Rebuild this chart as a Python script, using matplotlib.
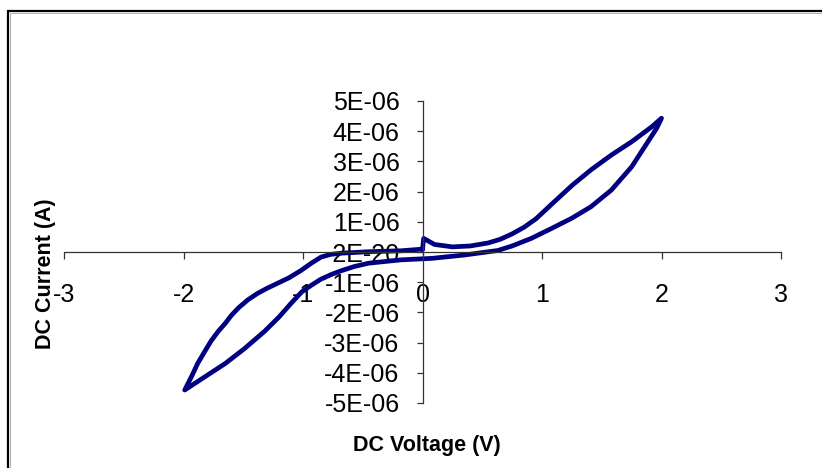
import matplotlib
matplotlib.use("Agg")
import matplotlib.pyplot as plt
from matplotlib.patches import Rectangle

# I-V hysteresis loop (current in microamps)
# starts at 0 V, sweeps up to +2 V, down to -2 V, back to 0 V
volts = [0.00, 0.01, 0.10, 0.25, 0.40, 0.55, 0.65, 0.75, 0.85, 0.95, 1.08,
         1.25, 1.41, 1.58, 1.75, 1.92, 2.00,
         1.96, 1.86, 1.75, 1.58, 1.41, 1.25, 1.08, 0.91, 0.75, 0.63, 0.35,
         0.08, -0.18, -0.45, -0.57, -0.68, -0.76, -0.85, -0.93, -1.01,
         -1.10, -1.20, -1.32, -1.49, -1.65, -1.82, -1.99,
         -1.93, -1.88, -1.82, -1.77, -1.71, -1.65, -1.60, -1.54, -1.46,
         -1.38, -1.30, -1.21, -1.12, -1.02, -0.93, -0.85, -0.77, -0.68,
         -0.45, -0.18, -0.02, 0.00]
current_ua = [0.09, 0.45, 0.25, 0.17, 0.20, 0.30, 0.42, 0.60, 0.82, 1.10, 1.58,
              2.20, 2.72, 3.21, 3.65, 4.15, 4.43,
              4.10, 3.49, 2.82, 2.05, 1.50, 1.12, 0.78, 0.45, 0.20, 0.05, -0.10,
              -0.21, -0.26, -0.37, -0.48, -0.62, -0.74, -0.90, -1.10, -1.32,
              -1.70, -2.15, -2.62, -3.20, -3.69, -4.13, -4.57,
              -4.10, -3.68, -3.28, -2.95, -2.63, -2.36, -2.10, -1.85, -1.58,
              -1.37, -1.20, -1.03, -0.86, -0.62, -0.37, -0.17, -0.08, -0.04,
              0.01, 0.04, 0.09, 0.09]

x_ticks = [-3, -2, -1, 0, 1, 2, 3]
x_tick_labels = ["-3", "-2", "-1", "0", "1", "2", "3"]
y_ticks = [-5e-6, -4e-6, -3e-6, -2e-6, -1e-6, 0, 1e-6, 2e-6, 3e-6, 4e-6, 5e-6]
y_tick_labels = ["-5E-06", "-4E-06", "-3E-06", "-2E-06", "-1E-06", "-2E-20",
                 "1E-06", "2E-06", "3E-06", "4E-06", "5E-06"]

plt.rcParams["font.family"] = ["Liberation Sans", "DejaVu Sans"]
plt.rcParams["axes.unicode_minus"] = False

W, H = 822, 468
fig = plt.figure(figsize=(W / 100, H / 100), dpi=100)
ax = fig.add_axes([64 / W, 65 / H, 717 / W, 302 / H])
ax.patch.set_alpha(0)

amps = [c * 1e-6 for c in current_ua]
ax.plot(volts, amps, color="#000080", lw=3.4, solid_joinstyle="round",
        solid_capstyle="round")

ax.set_xlim(-3, 3)
ax.set_ylim(-5e-6, 5e-6)
ax.spines["left"].set_position(("data", 0))
ax.spines["bottom"].set_position(("data", 0))
ax.spines[["top", "right"]].set_visible(False)
for s in ("left", "bottom"):
    ax.spines[s].set_color("#333333")
    ax.spines[s].set_linewidth(0.9)

ax.set_xticks(x_ticks)
ax.set_xticklabels(x_tick_labels)
ax.set_yticks(y_ticks)
ax.set_yticklabels(y_tick_labels)
ax.tick_params(axis="x", direction="out", length=5, width=0.9, color="#333333",
               pad=17.5, labelsize=18)
ax.tick_params(axis="y", direction="out", length=4.5, width=0.9, color="#333333",
               pad=12, labelsize=18)

fig.text(427 / W, 1 - 445 / H, "DC Voltage (V)", ha="center", va="center",
         fontsize=15.5, fontweight="bold")
fig.text(45 / W, 1 - 274 / H, "DC Current (A)", ha="center", va="center",
         rotation=90, fontsize=15.5, fontweight="bold")

# chart-area border (runs off the right and bottom edges)
fig.patches.append(Rectangle((8 / W, -0.1), 1.2, 1.1 - 11 / H,
                             transform=fig.transFigure, fill=False,
                             ec="black", lw=1.6))
fig.patches.append(Rectangle((10 / W, -0.1), 1.2, 1.1 - 13 / H,
                             transform=fig.transFigure, fill=False,
                             ec="#b0b0b0", lw=0.7))

fig.savefig("out.png", dpi=100)
